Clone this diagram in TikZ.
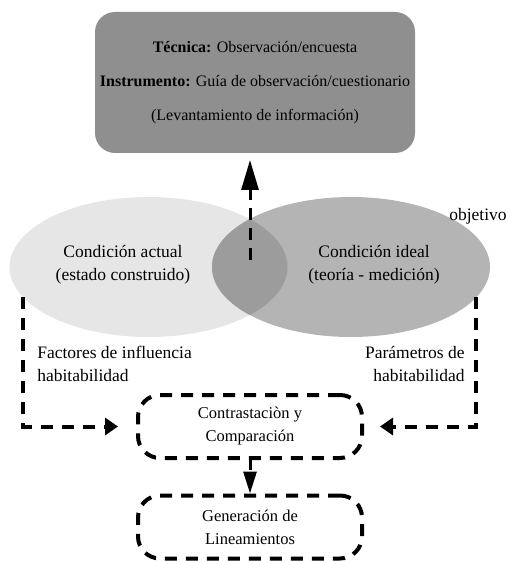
\documentclass[tikz,border=0pt]{standalone}
\usepackage{fontspec}
\setmainfont{Liberation Serif}
\usepackage{tikz}
\usetikzlibrary{arrows.meta,positioning,shapes}
\definecolor{grisbox}{RGB}{143,143,143}
\definecolor{grisact}{RGB}{230,230,230}
\definecolor{grisideal}{RGB}{180,180,180}
\definecolor{grismix}{RGB}{156,156,156}

\begin{document}
\begin{tikzpicture}[x=1pt,y=-1pt,>={Triangle[length=13pt,width=17pt]},
line width=4pt]
\tikzstyle{dline}=[dash pattern=on 12pt off 9pt]
\tikzstyle{caja}=[draw,dline,rounded corners=22pt,minimum width=224pt,
minimum height=63pt,align=center,font=\fontsize{16.5}{23}\selectfont]
\tikzstyle{circulo}=[ellipse,minimum width=278pt,minimum height=140pt]
\tikzstyle{texto}=[align=center,font=\fontsize{17.5}{23}\selectfont]

\useasboundingbox (0,0) rectangle (509,561);

\node[fill=grisbox,rounded corners=20pt,minimum width=320pt,minimum height=141pt,
align=center,font=\fontsize{16}{34}\selectfont] (tecnica) at (255,82.5)
{\textbf{Técnica:} Observación/encuesta\\
\textbf{Instrumento:} Guía de observación/cuestionario\\
(Levantamiento de información)};

% conjuntos
\node[circulo,fill=grisact]   (actual) at (148.5,267) {};
\node[circulo,fill=grisideal] (ideal)  at (351,267)   {};
\begin{scope}
\clip (148.5,267) ellipse (139 and 70);
\fill[grismix] (351,267) ellipse (139 and 70);
\end{scope}
\node[texto] (tactual) at (123,265) {Condición actual\\(estado construido)};
\node[texto] (tideal)  at (374,265) {Condición ideal\\(teoría - medición)};
\node[texto,anchor=east] (objetivo) at (512,216) {objetivo};

\node[caja] (contraste)  at (250,426.5) {Contrastaciòn y\\Comparación};
\node[caja] (generacion) at (250,527)   {Generación de\\Lineamientos};

\node[texto,align=left,anchor=west]  (factores)   at (32,364)
{Factores de influencia\\habitabilidad};
\node[texto,align=right,anchor=east] (parametros) at (470,364)
{Parámetros de\\habitabilidad};

\coordinate (centro) at (250,260);
\coordinate (izq) at (23,297);
\coordinate (der) at (476,297);

\draw[->,line width=3pt,dash pattern=on 12pt off 8pt,shorten >=5pt,
>={Triangle[length=30pt,width=17pt]}] (centro) -- (centro |- tecnica.south);
\draw[->,dline,shorten >=18pt] (izq) |- (contraste.west);
\draw[->,dline,shorten >=16pt] (der) |- (contraste.east);
\draw[->,line width=3pt,dash pattern=on 10pt off 5pt,
>={Triangle[length=22pt,width=13pt]}] (contraste.south) -- (generacion.north);
\end{tikzpicture}
\end{document}
